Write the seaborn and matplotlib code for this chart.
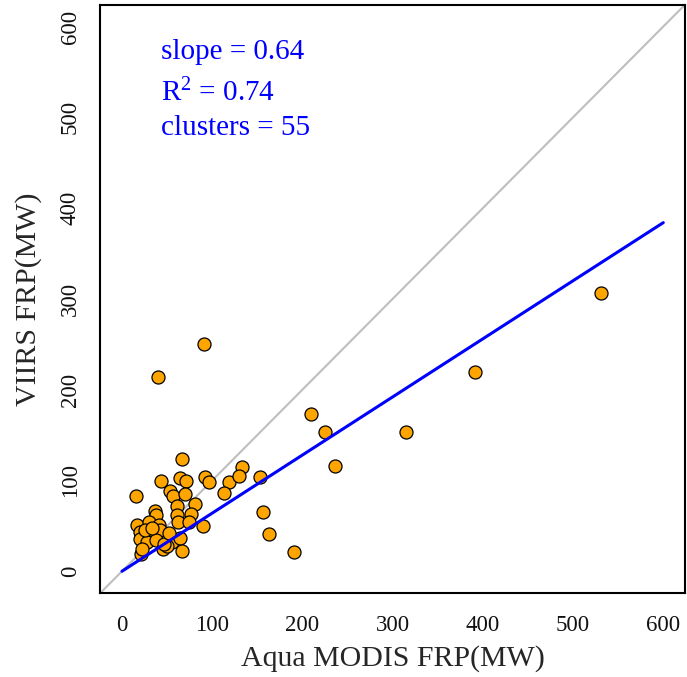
import matplotlib
matplotlib.use("Agg")
import matplotlib.pyplot as plt
import seaborn as sns
import numpy as np
import pandas as pd

modis = [531.5, 391, 315, 210, 225, 236.5, 191, 90.6, 40, 156, 163.5, 152.5,
         67, 16, 43, 64.5, 71, 92, 97, 118.5, 132.6, 130, 113, 53, 57, 69.6,
         80.7, 61, 76, 61.5, 62, 74, 90, 36.5, 38, 16.6, 30, 41, 20, 30, 42,
         20, 28, 37.6, 21, 45, 56, 64, 67, 50, 25, 33, 47, 22, 52]
viirs = [307, 219, 153, 173, 153, 116, 21, 250, 214, 65, 41, 104,
         124, 83, 99, 103, 99, 104, 98, 98, 115, 105, 86, 88, 83, 85,
         74, 72, 63, 62, 54, 54, 50, 66, 62, 51, 54, 51, 43, 40, 45,
         35, 32, 34, 19, 25, 32, 37, 22, 28, 45, 48, 30, 25, 42]

slope = 0.64
intercept = 0.0
r2 = 0.74
n_clusters = 55
ticks = [0, 100, 200, 300, 400, 500, 600]

df = pd.DataFrame({"modis": modis, "viirs": viirs})

sns.set_style("white")
plt.rcParams["font.family"] = ["Liberation Serif", "DejaVu Serif"]
plt.rcParams["mathtext.fontset"] = "custom"
plt.rcParams["mathtext.rm"] = "Liberation Serif"
plt.rcParams["mathtext.it"] = "Liberation Serif:italic"
plt.rcParams["mathtext.bf"] = "Liberation Serif:bold"

fig = plt.figure(figsize=(6.87, 6.77), dpi=100)
ax = fig.add_axes([0.146, 0.124, 0.851, 0.869])

lim = (-24, 624)
ax.plot(lim, lim, color="#BEBEBE", lw=1.5, zorder=1)
xl = np.array([0, 600])
ax.plot(xl, intercept + slope * xl, color="#0000FF", lw=2.2, zorder=3)

sns.scatterplot(data=df, x="modis", y="viirs", ax=ax, s=88, color="#FFA500",
                edgecolor="black", linewidth=0.9, zorder=2)

ax.set_xlim(lim)
ax.set_ylim(lim)
ax.set_xticks(ticks)
ax.set_yticks(ticks)
ax.set_xticklabels([str(t) for t in ticks], fontsize=16.5, color="#111111")
ax.set_yticklabels([str(t) for t in ticks], fontsize=16.5, rotation=90, va="center", color="#111111")
ax.tick_params(axis="both", direction="out", length=9, width=1, color="#444444", pad=5)
ax.tick_params(axis="x", pad=7)
for s in ax.spines.values():
    s.set_color("black")
    s.set_linewidth(1.5)

ax.set_xlabel("Aqua MODIS FRP(MW)", fontsize=21.5, labelpad=6)
ax.set_ylabel("VIIRS FRP(MW)", fontsize=21.5, labelpad=13)

ax.text(43, 572, f"slope = {slope}", color="#0000FF", fontsize=21, va="center", ha="left")
ax.text(43, 527, r"R$^{\mathrm{2}}$" + f" = {r2}", color="#0000FF", fontsize=21, va="center", ha="left")
ax.text(43, 488, f"clusters = {n_clusters}", color="#0000FF", fontsize=21, va="center", ha="left")

fig.savefig("out.png", dpi=100)
